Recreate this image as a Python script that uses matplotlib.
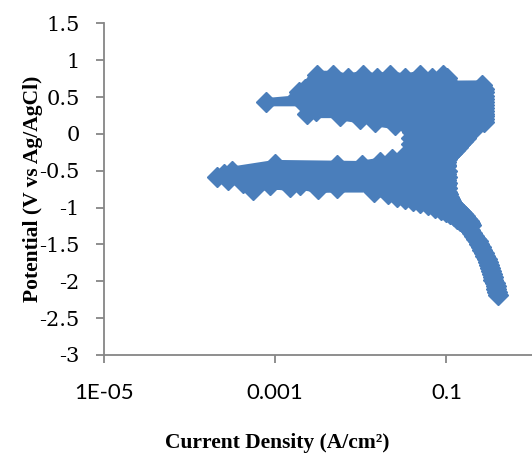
import matplotlib
matplotlib.use("Agg")
import matplotlib.pyplot as plt
from matplotlib.ticker import NullLocator

# cathodic tail, scanned upward from -2.18 V
tail_i = [0.396, 0.385, 0.380, 0.375, 0.370, 0.355, 0.346, 0.337, 0.328, 0.319,
          0.311, 0.3025, 0.2945, 0.283, 0.272, 0.261, 0.251, 0.241, 0.231, 0.222,
          0.211, 0.200, 0.189, 0.177]
tail_e = [-2.18, -2.14, -2.10, -2.06, -2.02, -1.98, -1.94, -1.90, -1.86, -1.82,
          -1.78, -1.74, -1.70, -1.66, -1.62, -1.58, -1.54, -1.50, -1.46, -1.42,
          -1.38, -1.34, -1.30, -1.26]

# cathodic branch approaching Ecorr (noisy current)
cath_i = [0.1942, 0.1652, 0.1545, 0.1890, 0.1815, 0.1445, 0.1315, 0.1720,
          0.1631, 0.1213, 0.1104, 0.1545, 0.1464, 0.0979, 0.0855, 0.1388,
          0.1298, 0.0738, 0.0612, 0.1213, 0.1150, 0.0487, 0.0403, 0.1119,
          0.1090, 0.0330, 0.0262, 0.1060, 0.1033, 0.0206, 0.01414, 0.1005]
cath_e = [-1.24, -1.24, -1.21, -1.21, -1.18, -1.18, -1.15, -1.15,
          -1.12, -1.12, -1.09, -1.09, -1.06, -1.06, -1.03, -1.03,
          -1.00, -1.00, -0.97, -0.97, -0.94, -0.94, -0.91, -0.91,
          -0.88, -0.88, -0.85, -0.85, -0.82, -0.82, -0.79, -0.79]

# region around Ecorr
ecorr_i = [0.1005, 0.00523, 0.00314, 0.00194, 0.00148, 0.000865, 0.000548,
           0.000505, 0.0990, 0.1010, 0.000419, 0.000280, 0.0995,
           0.1005, 0.000208, 0.000251, 0.0990, 0.1005, 0.000312,
           0.00099, 0.00523, 0.1000]
ecorr_e = [-0.74, -0.74, -0.745, -0.70, -0.72, -0.69, -0.76,
           -0.70, -0.70, -0.66, -0.66, -0.62, -0.62,
           -0.58, -0.58, -0.54, -0.54, -0.50, -0.50,
           -0.41, -0.42, -0.44]

# anodic branch up to ~0.1 V
anod_i = [0.0979, 0.01024, 0.0166, 0.0979, 0.1005, 0.02294, 0.03167, 0.106,
          0.115, 0.0372, 0.039, 0.125, 0.135, 0.0414, 0.039, 0.143,
          0.1546, 0.0414, 0.039, 0.1675, 0.1768, 0.0425, 0.0400, 0.187,
          0.2022, 0.0372, 0.0372, 0.2191]
anod_e = [-0.42, -0.42, -0.38, -0.38, -0.34, -0.34, -0.30, -0.30,
          -0.26, -0.26, -0.22, -0.22, -0.18, -0.18, -0.14, -0.14,
          -0.10, -0.10, -0.06, -0.06, -0.02, -0.02, 0.02, 0.02,
          0.06, 0.06, 0.10, 0.10]

# passive / pitting region at high potential
pass_i = [0.231, 0.02486, 0.01453, 0.272, 0.272, 0.00971, 0.00567, 0.272,
          0.272, 0.00234, 0.00300, 0.272, 0.272, 0.00250, 0.00221, 0.272,
          0.272, 0.00079, 0.00194, 0.272, 0.272, 0.00184, 0.00188, 0.272,
          0.272, 0.00221, 0.00253, 0.264, 0.1033, 0.1005, 0.00282, 0.00306,
          0.1005, 0.0903, 0.0672, 0.0487, 0.0325, 0.0217, 0.0153, 0.01052,
          0.00703, 0.0047, 0.00306]
pass_e = [0.12, 0.12, 0.16, 0.16, 0.20, 0.20, 0.24, 0.24,
          0.27, 0.27, 0.31, 0.31, 0.35, 0.35, 0.39, 0.39,
          0.43, 0.43, 0.47, 0.47, 0.51, 0.51, 0.57, 0.57,
          0.61, 0.61, 0.65, 0.665, 0.665, 0.72, 0.72, 0.76,
          0.76, 0.80, 0.76, 0.80, 0.76, 0.80, 0.76, 0.80,
          0.76, 0.80, 0.80]

current = tail_i + cath_i + ecorr_i + anod_i + pass_i
potential = tail_e + cath_e + ecorr_e + anod_e + pass_e

y_ticks = [-3, -2.5, -2, -1.5, -1, -0.5, 0, 0.5, 1, 1.5]
y_labels = ["-3", "-2.5", "-2", "-1.5", "-1", "-0.5", "0", "0.5", "1", "1.5"]
x_ticks = [1e-5, 1e-3, 1e-1]
x_labels = ["1E-05", "0.001", "0.1"]

blue = "#4A7EBB"
grey = "#868686"

fig = plt.figure(figsize=(5.32, 4.53), dpi=100)
ax = fig.add_axes([104 / 532, 98 / 453, 428 / 532, 331.7 / 453])

ax.plot(current, potential, "-D", color=blue, lw=6, ms=10, mew=1, mec=blue,
        solid_joinstyle="round", solid_capstyle="round", clip_on=False)

ax.set_xscale("log")
ax.set_xlim(1e-5, 1)
ax.set_ylim(-3, 1.5)

ax.set_xticks(x_ticks)
ax.set_xticklabels(x_labels, fontfamily="Lato", fontsize=16)
ax.xaxis.set_minor_locator(NullLocator())
ax.set_yticks(y_ticks)
ax.set_yticklabels(y_labels, fontfamily="DejaVu Serif", fontsize=15)

for side in ["top", "right"]:
    ax.spines[side].set_visible(False)
for side in ["left", "bottom"]:
    ax.spines[side].set_color(grey)
    ax.spines[side].set_linewidth(1.3)

ax.tick_params(axis="both", direction="out", length=5.5, width=1.3, color=grey)
ax.tick_params(axis="x", pad=15)
ax.tick_params(axis="y", pad=12)

fig.text(277 / 532, 1 - 443 / 453, "Current Density (A/cm²)", ha="center", va="center",
         fontfamily="Liberation Serif", fontweight="bold", fontsize=15.5)
fig.text(33 / 532, 1 - 189 / 453, "Potential (V vs Ag/AgCl)", ha="center", va="center",
         rotation=90, fontfamily="Liberation Serif", fontweight="bold", fontsize=15.5)

fig.savefig("out.png", dpi=100)
